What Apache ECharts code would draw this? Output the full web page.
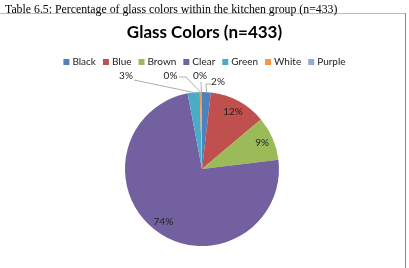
<!DOCTYPE html>
<html>
<head>
<meta charset="utf-8">
<script src="https://cdn.jsdelivr.net/npm/echarts@6/dist/echarts.min.js"></script>
<style>
html,body{margin:0;padding:0;background:#fff;}
#chart{width:409px;height:268px;}
</style>
</head>
<body>
<div id="chart"></div>
<script>
var categories = ['Black', 'Blue', 'Brown', 'Clear', 'Green', 'White', 'Purple'];
var counts = [8, 52, 40, 320, 11, 1, 1];
var colors = ['#4F81BD', '#C0504D', '#9BBB59', '#7360A0', '#4BACC6', '#F79646', '#95A9D3'];
var insideLabels = ['Blue', 'Brown', 'Clear'];
var captionText = 'Table 6.5: Percentage of glass colors within the kitchen group (n=433)';
var chartTitle = 'Glass Colors (n=433)';

// placement of the outside labels (layout only): label centre and leader-line bend
var outsideLayout = {
  Black:  {x: 218, y: 82, bend: [206, 84], end: [211, 84]},
  Green:  {x: 126, y: 76, bend: [134, 80], end: [134, 80]},
  White:  {x: 170.5, y: 76, bend: [186, 77], end: [179, 77]},
  Purple: {x: 200, y: 76, bend: [201, 82], end: [201, 82]}
};

var chart = echarts.init(document.getElementById('chart'), null, {renderer: 'canvas'});

function pct(p) { return Math.round(p) + '%'; }

var mainData = categories.map(function (c, i) {
  var inside = insideLabels.indexOf(c) >= 0;
  return {
    name: c, value: counts[i],
    itemStyle: {color: colors[i]},
    label: {show: !inside},
    labelLine: {show: !inside}
  };
});
var overlayData = categories.map(function (c, i) {
  var inside = insideLabels.indexOf(c) >= 0;
  return {name: c, value: counts[i], label: {show: inside}};
});

chart.setOption({
  animation: false,
  color: colors,
  title: [
    {text: captionText, left: 0, top: -1, textStyle: {fontFamily: 'Liberation Serif', fontWeight: 'normal', fontSize: 11.8, color: '#000'}},
    {text: chartTitle, left: 'center', top: 19, textStyle: {fontFamily: 'Lato', fontWeight: 'bold', fontSize: 17, color: '#000'}}
  ],
  legend: {
    data: categories,
    top: 52, left: 'center',
    itemWidth: 6, itemHeight: 6, itemGap: 7,
    icon: 'rect',
    textStyle: {fontFamily: 'Lato', fontSize: 10, color: '#222', padding: [0, 0, 0, -2]}
  },
  graphic: [
    {type: 'line', shape: {x1: 0, y1: 13.5, x2: 406, y2: 13.5}, style: {stroke: '#bbbbbb', lineWidth: 1}, silent: true},
    {type: 'line', shape: {x1: 405.5, y1: 13, x2: 405.5, y2: 268}, style: {stroke: '#888888', lineWidth: 1}, silent: true}
  ],
  series: [
    {
      type: 'pie',
      center: [202, 169],
      radius: [0, 77],
      startAngle: 90,
      clockwise: true,
      avoidLabelOverlap: false,
      data: mainData,
      label: {
        position: 'outside',
        formatter: function (p) { return pct(p.percent); },
        fontFamily: 'Lato', fontSize: 10, color: '#222'
      },
      labelLine: {length: 8, length2: 8, lineStyle: {color: '#999', width: 0.8}},
      labelLayout: function (params) {
        var name = categories[params.dataIndex];
        var L = outsideLayout[name];
        if (!L) return {};
        var start = params.labelLinePoints ? params.labelLinePoints[0] : [202, 92];
        return {
          x: L.x, y: L.y, align: 'center', verticalAlign: 'middle',
          labelLinePoints: [start, L.bend, L.end]
        };
      },
      emphasis: {disabled: true}
    },
    {
      type: 'pie',
      center: [202, 169],
      radius: [0, 125],
      startAngle: 90,
      clockwise: true,
      silent: true,
      z: 3,
      itemStyle: {color: 'rgba(0,0,0,0)'},
      data: overlayData,
      label: {
        position: 'inside',
        formatter: function (p) { return pct(p.percent); },
        fontFamily: 'Lato', fontSize: 10, color: '#222'
      },
      labelLine: {show: false},
      legendHoverLink: false,
      emphasis: {disabled: true}
    }
  ]
});
</script>
</body>
</html>
